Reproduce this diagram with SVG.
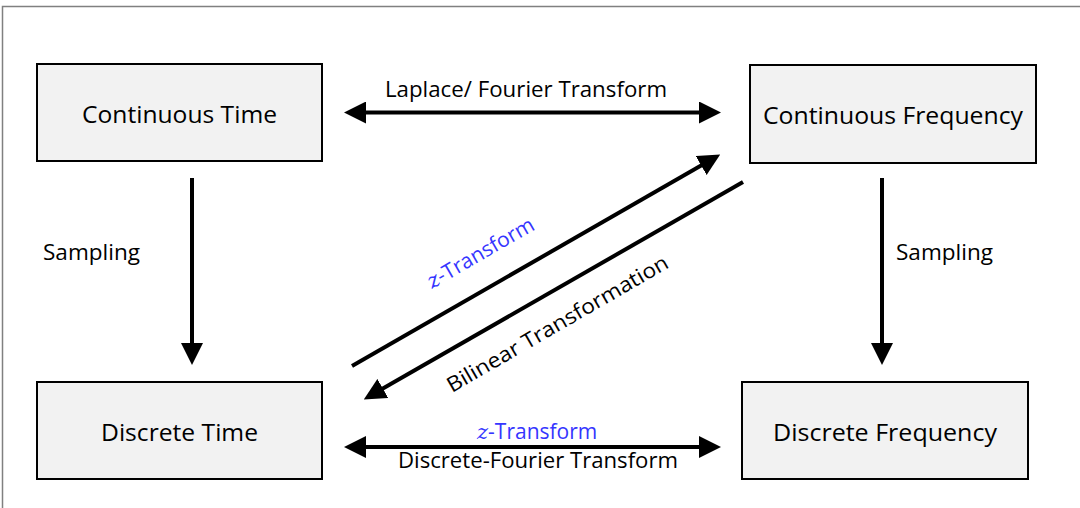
<svg xmlns="http://www.w3.org/2000/svg" width="1080" height="508" viewBox="0 0 1080 508">
<style>
.box{fill:#f2f2f2;stroke:#000;stroke-width:2}
.nt{font-family:"Open Sans","Noto Sans",sans-serif;font-size:24px;fill:#000;text-anchor:middle}
.lb{font-family:"Open Sans","Noto Sans",sans-serif;font-size:21px;fill:#000}
.blue{fill:#3535ff}
.zi{font-family:"DejaVu Serif","Liberation Serif",serif;font-style:italic}
.ln{stroke:#000;stroke-width:4;fill:none}
</style>
<defs>
<marker id="ah" markerUnits="userSpaceOnUse" markerWidth="22" markerHeight="22" refX="1" refY="11" orient="auto-start-reverse" viewBox="0 0 22 22">
<path d="M0,0 L22,11 L0,22 z" fill="#000"/>
</marker>
</defs>
<rect x="2.5" y="6.5" width="1100" height="520" fill="#fff" stroke="#808080" stroke-width="1.5"/>
<g id="continuous-time">
<rect class="box" x="37" y="64" width="285" height="97"/>
<text class="nt" x="179.5" y="123" textLength="195" lengthAdjust="spacingAndGlyphs">Continuous Time</text>
</g>
<g id="continuous-frequency">
<rect class="box" x="750" y="65" width="286" height="98"/>
<text class="nt" x="893" y="124" textLength="260" lengthAdjust="spacingAndGlyphs">Continuous Frequency</text>
</g>
<g id="discrete-time">
<rect class="box" x="37" y="382" width="285" height="97"/>
<text class="nt" x="179.5" y="441" textLength="157" lengthAdjust="spacingAndGlyphs">Discrete Time</text>
</g>
<g id="discrete-frequency">
<rect class="box" x="742" y="382" width="286" height="97"/>
<text class="nt" x="885" y="441" textLength="224" lengthAdjust="spacingAndGlyphs">Discrete Frequency</text>
</g>
<g id="connectors">
<line class="ln" x1="365" y1="112.5" x2="700" y2="112.5" marker-start="url(#ah)" marker-end="url(#ah)"/>
<line class="ln" x1="365" y1="447" x2="700" y2="447" marker-start="url(#ah)" marker-end="url(#ah)"/>
<line class="ln" x1="192" y1="178" x2="192" y2="344" marker-end="url(#ah)"/>
<line class="ln" x1="882" y1="178" x2="882" y2="344" marker-end="url(#ah)"/>
<line class="ln" x1="352" y1="366" x2="702" y2="165" marker-end="url(#ah)"/>
<line class="ln" x1="743" y1="182" x2="382" y2="389" marker-end="url(#ah)"/>
</g>
<g id="labels">
<text class="lb" x="385" y="97" textLength="282" lengthAdjust="spacingAndGlyphs">Laplace/ Fourier Transform</text>
<text class="lb" x="43" y="260" textLength="97" lengthAdjust="spacingAndGlyphs">Sampling</text>
<text class="lb" x="896" y="260" textLength="97" lengthAdjust="spacingAndGlyphs">Sampling</text>
<text class="lb blue" x="477" y="439"><tspan class="zi">z</tspan>-Transform</text>
<text class="lb" x="398" y="468" textLength="280" lengthAdjust="spacingAndGlyphs">Discrete-Fourier Transform</text>
<text class="lb blue" text-anchor="middle" transform="translate(484,259) rotate(-30)"><tspan class="zi">z</tspan>-Transform</text>
<text class="lb" text-anchor="middle" transform="translate(561,330) rotate(-30)" textLength="252" lengthAdjust="spacingAndGlyphs">Bilinear Transformation</text>
</g>
</svg>
